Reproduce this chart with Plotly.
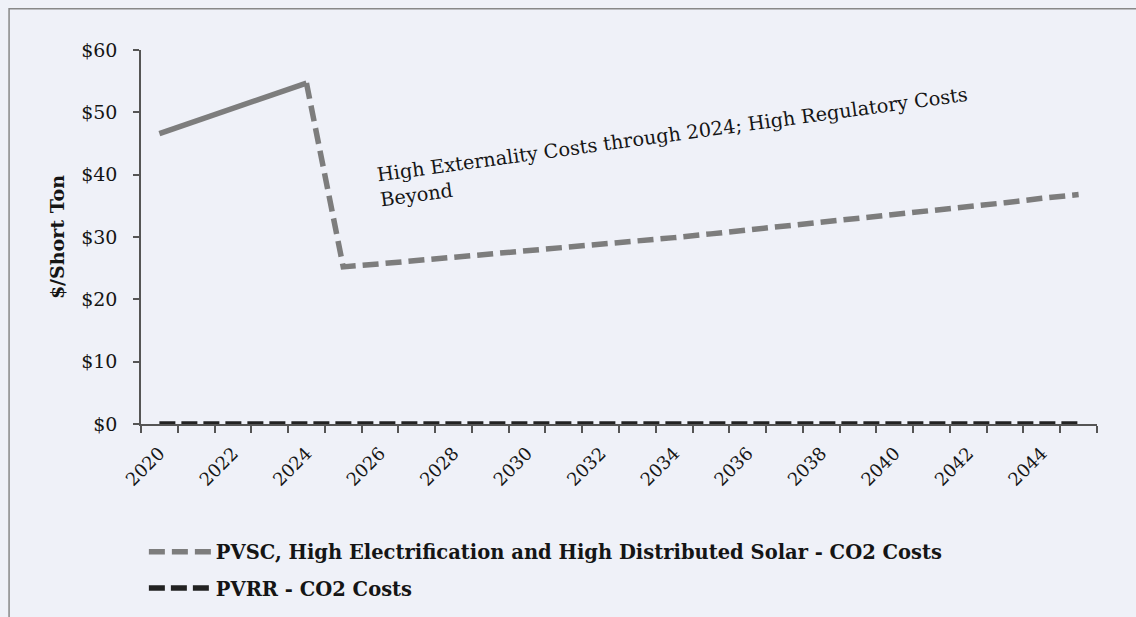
import plotly.graph_objects as go

# Chart data
years = list(range(2020, 2046))
pvsc_co2 = [46.6, 48.6, 50.6, 52.6, 54.7,
            25.2, 25.7, 26.2, 26.7, 27.2, 27.7, 28.2, 28.8, 29.3, 29.9,
            30.5, 31.1, 31.7, 32.3, 32.9, 33.6, 34.2, 34.9, 35.5, 36.2, 36.8]
pvrr_co2 = [0.0] * len(years)
externality_end = 2024  # last year priced at externality costs
y_ticks = [0, 10, 20, 30, 40, 50, 60]
y_tick_labels = ["$0", "$10", "$20", "$30", "$40", "$50", "$60"]
x_tick_labels = [str(y) if y % 2 == 0 else "" for y in years]

SERIF = "DejaVu Serif, Liberation Serif, serif"
GRAY = "#7d7d7d"
BLACK = "#222222"
BG = "#eff1f8"
INK = "#151515"

cut = years.index(externality_end)

fig = go.Figure()

# Externality-cost years drawn as a solid segment
fig.add_trace(go.Scatter(
    x=years[:cut + 1], y=pvsc_co2[:cut + 1], mode="lines",
    line=dict(color=GRAY, width=5.5), showlegend=False, hoverinfo="skip",
    legendgroup="pvsc"))

# Regulatory-cost years and the legend entry for the PVSC series
fig.add_trace(go.Scatter(
    x=years[cut:], y=pvsc_co2[cut:], mode="lines",
    name="PVSC, High Electrification and High Distributed Solar - CO2 Costs",
    line=dict(color=GRAY, width=5.5, dash="16px,7px"), legendgroup="pvsc"))

fig.add_trace(go.Scatter(
    x=years, y=pvrr_co2, mode="lines", name="PVRR - CO2 Costs",
    line=dict(color=BLACK, width=5.5, dash="16px,6px"), legendgroup="pvrr"))

fig.update_layout(
    width=1136, height=617,
    margin=dict(l=141, r=39, t=50, b=193, autoexpand=False),
    paper_bgcolor=BG, plot_bgcolor=BG,
    font=dict(family=SERIF, color=INK, size=18),
    showlegend=True,
    legend=dict(
        x=0.003, y=-0.29, xanchor="left", yanchor="top",
        bgcolor="rgba(0,0,0,0)", tracegroupgap=8, itemwidth=62,
        traceorder="grouped",
        font=dict(family=SERIF, size=19.5, color=INK, weight="bold"),
    ),
    xaxis=dict(
        type="category", categoryorder="array", categoryarray=years,
        tickvals=years, ticktext=x_tick_labels, tickson="boundaries",
        ticks="outside", ticklen=7, tickcolor="#555555", tickwidth=1.5,
        tickangle=-45, ticklabelstandoff=10,
        tickfont=dict(family=SERIF, size=18, color=INK),
        showline=True, linecolor="#555555", linewidth=1.5,
        showgrid=False, zeroline=False, range=[-0.5, len(years) - 0.5],
    ),
    yaxis=dict(
        range=[0, 60], tickvals=y_ticks, ticktext=y_tick_labels,
        ticks="outside", ticklen=6, tickcolor="#555555", tickwidth=1.5,
        ticklabelstandoff=12,
        tickfont=dict(family=SERIF, size=19, color=INK),
        showline=True, linecolor="#555555", linewidth=1.5,
        showgrid=False, zeroline=False,
        title=dict(text="$/Short Ton", standoff=12,
                   font=dict(family=SERIF, size=19, color=INK, weight="bold")),
    ),
    annotations=[dict(
        text="High Externality Costs through 2024; High Regulatory Costs<br>Beyond",
        xref="paper", yref="paper", x=0.558, y=0.74,
        xanchor="center", yanchor="middle", align="left",
        textangle=-7.8, showarrow=False,
        font=dict(family=SERIF, size=19.3, color=INK),
    )],
    shapes=[dict(
        type="rect", xref="paper", yref="paper",
        x0=-0.138, x1=1.06, y0=-0.55, y1=1.11,
        line=dict(color="#888888", width=1.5), fillcolor="rgba(0,0,0,0)", layer="below",
    )],
)

fig.write_html("out.html")
